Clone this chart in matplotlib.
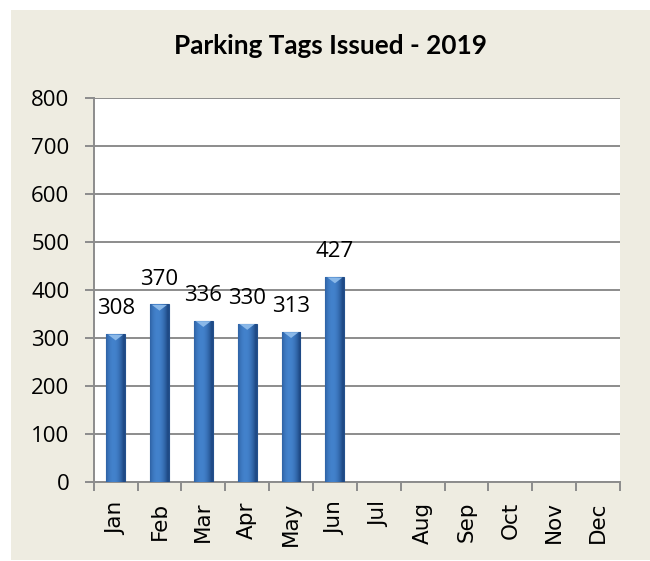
import matplotlib.pyplot as plt
import numpy as np
from matplotlib.patches import Rectangle
from matplotlib.colors import LinearSegmentedColormap

months = ['Jan', 'Feb', 'Mar', 'Apr', 'May', 'Jun', 'Jul', 'Aug', 'Sep', 'Oct', 'Nov', 'Dec']
tags_issued = [308, 370, 336, 330, 313, 427]
title = 'Parking Tags Issued - 2019'

fig = plt.figure(figsize=(6.5, 5.61), dpi=100)
fig.patch.set_facecolor('white')
# beige chart area with thin white margin on top/left
fig.patches.append(Rectangle((11 / 650, 1 / 561), 1, 1 - 11 / 561, transform=fig.transFigure,
                             facecolor='#EEECE1', edgecolor='none', zorder=-10))

ax = fig.add_axes([93.7 / 650, 1 - 482 / 561, 526.3 / 650, 384 / 561])
ax.set_facecolor('white')

x = np.arange(len(months))
width = 0.43
bars = ax.bar(x[:len(tags_issued)], tags_issued, width=width, color='#3B6DB3',
              edgecolor='#24508C', linewidth=0.8, zorder=3)

# cylinder-like horizontal gradient on each bar
grad = np.linspace(0, 1, 64)
shade = np.clip(1 - 3.5 * (grad - 0.4) ** 2, 0, 1)
img = np.tile(shade, (2, 1))
cmap = LinearSegmentedColormap.from_list('b', ['#1F4A86', '#4382CC'])
for b in bars:
    x0, w, h = b.get_x(), b.get_width(), b.get_height()
    im = ax.imshow(img, extent=[x0, x0 + w, 0, h], aspect='auto', cmap=cmap,
                   vmin=0, vmax=1, zorder=3.5, origin='lower')
    im.set_clip_path(b)
    # lighter top cap
    ax.fill([x0 + w * 0.1, x0 + w / 2, x0 + w * 0.9], [h - 1, h - 13, h - 1],
            color='#8AB8E8', zorder=4, lw=0)

for xi, v in zip(x, tags_issued):
    ax.text(xi, v + 41, str(v), ha='center', va='baseline', fontsize=16,
            family='Open Sans', color='black', zorder=5)

ax.set_xlim(-0.5, len(months) - 0.5)
ax.set_ylim(0, 800)
ax.set_yticks(range(0, 801, 100))
ax.yaxis.grid(True, color='#8C8C8C', linewidth=1.4, zorder=0)
ax.set_axisbelow(True)

ax.set_xticks(x)
ax.set_xticklabels(months, rotation=90, fontsize=15.5, family='DejaVu Sans')
ax.tick_params(axis='x', length=0, pad=14)
ax.set_xticks(np.arange(-0.5, len(months)), minor=True)
ax.tick_params(axis='x', which='minor', length=6.5, color='#8C8C8C', width=1.4)
ax.tick_params(axis='y', length=6.5, color='#8C8C8C', width=1.4, labelsize=16, pad=11)
for lbl in ax.get_yticklabels():
    lbl.set_family('Open Sans')

for s in ['top', 'right']:
    ax.spines[s].set_visible(False)
for s in ['left', 'bottom']:
    ax.spines[s].set_color('#8C8C8C')
    ax.spines[s].set_linewidth(1.4)

fig.text(330 / 650, 1 - 46.5 / 561, title, ha='center', va='center', fontsize=18.8,
         fontweight='bold', family='Lato')

fig.savefig('out.png', dpi=100, facecolor=fig.get_facecolor())
